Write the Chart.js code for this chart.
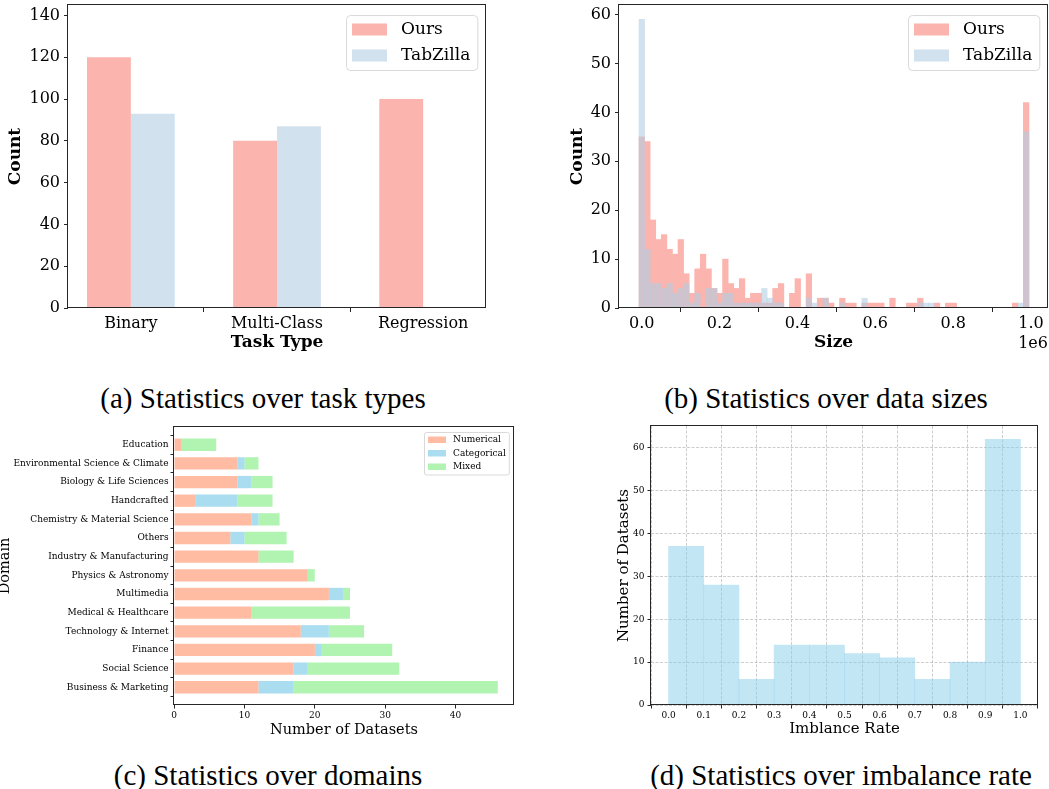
<!DOCTYPE html>
<html>
<head>
<meta charset="utf-8">
<title>Dataset statistics</title>
<script src="https://cdn.jsdelivr.net/npm/chart.js@4.4.1/dist/chart.umd.min.js"></script>
<style>
  html, body { margin: 0; padding: 0; background: #fff; }
  body { position: relative; width: 1049px; height: 789px; overflow: hidden; }
  canvas { position: absolute; }
  .caption { position: absolute; font-family: 'Liberation Serif', 'DejaVu Serif'; font-size: 29px; line-height: 29px; white-space: nowrap; color: #000; transform: translateX(-50%); }
</style>
</head>
<body>
<canvas id="taskChart" width="500" height="360" style="left:0;top:0"></canvas>
<canvas id="sizeChart" width="489" height="360" style="left:560px;top:0"></canvas>
<canvas id="domainChart" width="540" height="330" style="left:0;top:420px"></canvas>
<canvas id="rateChart" width="469" height="330" style="left:580px;top:420px"></canvas>
<div class="caption" style="left:263px;top:384px">(a) Statistics over task types</div>
<div class="caption" style="left:826px;top:384px">(b) Statistics over data sizes</div>
<div class="caption" style="left:268px;top:761px">(c) Statistics over domains</div>
<div class="caption" style="left:841px;top:761px">(d) Statistics over imbalance rate</div>
<script>
// (a) task types
var taskTypes = ["Binary", "Multi-Class", "Regression"];
var taskOurs = [120, 80, 100];
var taskTabZilla = [93, 87, 0];

// (b) data sizes, histogram with 70 bins (x in units of 1e6)
var sizeBinStart = -0.0069;
var sizeBinWidth = 0.01431;
var sizeOurs = [35, 34, 18, 14, 15, 12, 11, 14, 7, 3,
                8, 11, 8, 4, 3, 10, 5, 4, 6, 2,
                3, 3, 1, 1, 4, 5, 0, 3, 6, 0,
                7, 0, 2, 2, 1, 0, 2, 1, 1, 0,
                1, 1, 1, 1, 0, 2, 0, 0, 1, 1,
                2, 0, 0, 1, 0, 1, 1, 0, 0, 0,
                0, 0, 0, 0, 0, 0, 0, 1, 0, 42];
var sizeTabZilla = [59, 12, 5, 5, 4, 5, 3, 4, 5, 1,
                    3, 0, 4, 4, 1, 3, 3, 1, 1, 1,
                    1, 1, 4, 2, 1, 1, 0, 0, 0, 0,
                    2, 1, 0, 2, 0, 0, 1, 0, 0, 0,
                    2, 0, 0, 0, 0, 0, 0, 0, 0, 0,
                    1, 1, 1, 0, 0, 0, 0, 0, 0, 0,
                    0, 0, 0, 0, 0, 0, 0, 0, 1, 36];
var sizeTicks = [0.0, 0.2, 0.4, 0.6, 0.8, 1.0];

// (c) domains, top to bottom
var domains = ["Education", "Environmental Science & Climate", "Biology & Life Sciences", "Handcrafted",
               "Chemistry & Material Science", "Others", "Industry & Manufacturing", "Physics & Astronomy",
               "Multimedia", "Medical & Healthcare", "Technology & Internet", "Finance", "Social Science",
               "Business & Marketing"];
var domainNumerical = [1, 9, 9, 3, 11, 8, 12, 19, 22, 11, 18, 20, 17, 12];
var domainCategorical = [0, 1, 2, 6, 1, 2, 0, 0, 2, 0, 4, 1, 2, 5];
var domainMixed = [5, 2, 3, 5, 3, 6, 5, 1, 1, 14, 5, 10, 13, 29];

// (d) imbalance rate
var rateEdges = [0.0, 0.1, 0.2, 0.3, 0.4, 0.5, 0.6, 0.7, 0.8, 0.9, 1.0];
var rateCounts = [37, 28, 6, 14, 14, 12, 11, 6, 10, 62];

var SERIF = "'DejaVu Serif', serif";
var INK = '#262626';
var OURS = '#fbb4ae';
var TABZ = 'rgba(179, 205, 227, 0.6)';

Chart.defaults.font.family = SERIF;
Chart.defaults.color = '#000';
Chart.defaults.animation = false;

// legend drawn inside the plot, like matplotlib
var boxLegend = {
    id: 'boxLegend',
    afterDraw: function (chart, args, o) {
        var ctx = chart.ctx;
        var area = chart.chartArea;
        var sets = chart.data.datasets;
        ctx.save();
        ctx.font = o.size + 'px ' + SERIF;
        var textW = 0;
        sets.forEach(function (ds) {
            textW = Math.max(textW, ctx.measureText(ds.label).width);
        });
        var w = o.textX + textW + o.padRight;
        var h = o.padY * 2 + sets.length * o.row;
        var x = Math.round(area.right - o.right - w);
        var y = Math.round(area.top + o.top);
        ctx.beginPath();
        if (ctx.roundRect) ctx.roundRect(x + 0.5, y + 0.5, w, h, o.radius);
        else ctx.rect(x + 0.5, y + 0.5, w, h);
        ctx.fillStyle = 'rgba(255,255,255,0.8)';
        ctx.fill();
        ctx.strokeStyle = '#d9d9d9';
        ctx.lineWidth = 1;
        ctx.stroke();
        sets.forEach(function (ds, i) {
            var cy = y + o.padY + o.row * (i + 0.5);
            ctx.fillStyle = ds.backgroundColor;
            ctx.fillRect(x + o.patchX, cy - o.patchH / 2, o.patchW, o.patchH);
            ctx.fillStyle = '#000';
            ctx.textBaseline = 'middle';
            ctx.fillText(ds.label, x + o.textX, cy);
        });
        ctx.restore();
    }
};

// box around the plot area
var frame = {
    id: 'frame',
    afterDatasetsDraw: function (chart) {
        var a = chart.chartArea;
        var ctx = chart.ctx;
        var l = Math.round(a.left) - 0.5, t = Math.round(a.top) - 0.5;
        var r = Math.round(a.right) - 0.5, b = Math.round(a.bottom) - 0.5;
        ctx.save();
        ctx.strokeStyle = INK;
        ctx.lineWidth = 1;
        ctx.strokeRect(l, t, r - l, b - t);
        ctx.restore();
    }
};

// "1e6" under the x axis
var offsetText = {
    id: 'offsetText',
    afterDraw: function (chart, args, o) {
        var ctx = chart.ctx;
        ctx.save();
        ctx.font = o.size + 'px ' + SERIF;
        ctx.fillStyle = '#000';
        ctx.textAlign = 'right';
        ctx.textBaseline = 'alphabetic';
        ctx.fillText(o.text, chart.chartArea.right, o.y);
        ctx.restore();
    }
};

function fixSize(size) {
    return function (s) {
        if (s.isHorizontal()) s.height = size;
        else s.width = size;
        s.paddingTop = s.paddingBottom = s.paddingLeft = s.paddingRight = 0;
    };
}

function tickMarks(len) {
    return { drawOnChartArea: false, drawTicks: true, tickLength: len, tickColor: INK, tickWidth: 1 };
}

function setTicks(values) {
    return function (s) {
        s.ticks = values.map(function (v) { return { value: v }; });
    };
}

// ---------- (a) ----------
new Chart(document.getElementById('taskChart'), {
    type: 'bar',
    data: {
        datasets: [{
            label: 'Ours',
            data: taskTypes.map(function (t, i) { return { x: i, y: taskOurs[i] }; }),
            backgroundColor: OURS
        }, {
            label: 'TabZilla',
            data: taskTypes.map(function (t, i) { return { x: i, y: taskTabZilla[i] }; }),
            backgroundColor: TABZ
        }]
    },
    options: {
        responsive: false,
        layout: { padding: { left: 0, top: 5, right: 14, bottom: 0 } },
        datasets: { bar: { categoryPercentage: 0.6, barPercentage: 1 } },
        plugins: {
            legend: { display: false },
            tooltip: { enabled: false },
            boxLegend: { size: 17, right: 9, top: 10, patchX: 6, patchW: 35, patchH: 12, textX: 55, padRight: 7, row: 26, padY: 1.5, radius: 4 }
        },
        scales: {
            x: {
                type: 'linear', min: -0.43, max: 2.43, offset: false,
                afterBuildTicks: setTicks([0, 1, 2]),
                ticks: { callback: function (v) { return taskTypes[v]; }, font: { size: 16 }, padding: 2, autoSkip: false, maxRotation: 0 },
                grid: tickMarks(4),
                border: { display: false },
                title: { display: true, text: 'Task Type', font: { size: 17, weight: 'bold' }, padding: { top: 0, bottom: 7 } },
                afterFit: fixSize(52)
            },
            y: {
                min: 0, max: 145,
                ticks: { stepSize: 20, includeBounds: false, font: { size: 16 }, padding: 4 },
                grid: tickMarks(4),
                border: { display: false },
                title: { display: true, text: 'Count', font: { size: 17, weight: 'bold' }, padding: { top: 5, bottom: 0 } },
                afterFit: fixSize(68)
            }
        }
    },
    plugins: [frame, boxLegend]
});

// ---------- (b) ----------
function sizePoints(counts) {
    return counts.map(function (c, i) { return { x: sizeBinStart + (i + 0.5) * sizeBinWidth, y: c }; });
}
new Chart(document.getElementById('sizeChart'), {
    type: 'bar',
    data: {
        datasets: [{
            label: 'Ours', data: sizePoints(sizeOurs), backgroundColor: OURS, order: 1
        }, {
            label: 'TabZilla', data: sizePoints(sizeTabZilla), backgroundColor: TABZ, order: 0
        }]
    },
    options: {
        responsive: false,
        layout: { padding: { left: 0, top: 5, right: 1, bottom: 0 } },
        datasets: { bar: { categoryPercentage: 1, barPercentage: 1, grouped: false } },
        plugins: {
            legend: { display: false },
            tooltip: { enabled: false },
            boxLegend: { size: 17, right: 9, top: 10, patchX: 6, patchW: 35, patchH: 12, textX: 55, padRight: 7, row: 26, padY: 1.5, radius: 4 },
            offsetText: { text: '1e6', size: 16, y: 348 }
        },
        scales: {
            x: {
                type: 'linear', min: -0.0583, max: 1.0437, offset: false,
                afterBuildTicks: setTicks(sizeTicks),
                ticks: { callback: function (v) { return v.toFixed(1); }, font: { size: 16 }, padding: 2, autoSkip: false, maxRotation: 0 },
                grid: tickMarks(4),
                border: { display: false },
                title: { display: true, text: 'Size', font: { size: 17, weight: 'bold' }, padding: { top: 0, bottom: 7 } },
                afterFit: fixSize(52)
            },
            y: {
                min: 0, max: 61.95,
                ticks: { stepSize: 10, includeBounds: false, font: { size: 16 }, padding: 4 },
                grid: tickMarks(4),
                border: { display: false },
                title: { display: true, text: 'Count', font: { size: 17, weight: 'bold' }, padding: { top: 7, bottom: 0 } },
                afterFit: fixSize(59)
            }
        }
    },
    plugins: [frame, boxLegend, offsetText]
});

// ---------- (c) ----------
function domainPoints(vals) {
    return vals.map(function (v, i) { return { x: v, y: i }; });
}
new Chart(document.getElementById('domainChart'), {
    type: 'bar',
    data: {
        datasets: [
            { label: 'Numerical', data: domainPoints(domainNumerical), backgroundColor: 'rgba(255, 160, 122, 0.7)' },
            { label: 'Categorical', data: domainPoints(domainCategorical), backgroundColor: 'rgba(135, 206, 235, 0.7)' },
            { label: 'Mixed', data: domainPoints(domainMixed), backgroundColor: 'rgba(144, 238, 144, 0.7)' }
        ]
    },
    options: {
        responsive: false,
        indexAxis: 'y',
        layout: { padding: { left: 0, top: 7, right: 26, bottom: 0 } },
        datasets: { bar: { categoryPercentage: 1, barPercentage: 0.66 } },
        plugins: {
            legend: { display: false },
            tooltip: { enabled: false },
            boxLegend: { size: 9, right: 5, top: 5, patchX: 4, patchW: 18, patchH: 6.5, textX: 29, padRight: 3, row: 13.5, padY: 1, radius: 2 }
        },
        scales: {
            x: {
                type: 'linear', min: 0, max: 48.3, stacked: true,
                ticks: { stepSize: 10, includeBounds: false, font: { size: 9 }, padding: 2 },
                grid: tickMarks(3.5),
                border: { display: false },
                title: { display: true, text: 'Number of Datasets', font: { size: 14.5 }, padding: { top: 0, bottom: 11 } },
                afterFit: fixSize(45)
            },
            y: {
                type: 'linear', min: -0.95, max: 13.95, reverse: true, stacked: true, offset: false,
                afterBuildTicks: setTicks(domains.map(function (d, i) { return i; })),
                ticks: { callback: function (v) { return domains[v]; }, font: { size: 9 }, padding: 2, autoSkip: false },
                grid: tickMarks(3.5),
                border: { display: false },
                title: { display: true, text: 'Domain', font: { size: 14.5 }, padding: { top: -3, bottom: 0 } },
                afterFit: fixSize(174)
            }
        }
    },
    plugins: [frame, boxLegend]
});

// ---------- (d) ----------
new Chart(document.getElementById('rateChart'), {
    type: 'bar',
    data: {
        datasets: [{
            label: 'Imbalance',
            data: rateCounts.map(function (c, i) { return { x: (rateEdges[i] + rateEdges[i + 1]) / 2, y: c }; }),
            backgroundColor: 'rgba(135, 206, 235, 0.5)'
        }]
    },
    options: {
        responsive: false,
        layout: { padding: { left: 0, top: 6, right: 11, bottom: 0 } },
        datasets: { bar: { categoryPercentage: 1, barPercentage: 1 } },
        plugins: { legend: { display: false }, tooltip: { enabled: false } },
        scales: {
            x: {
                type: 'linear', min: -0.05, max: 1.05, offset: false,
                afterBuildTicks: setTicks(rateEdges),
                ticks: { callback: function (v) { return v.toFixed(1); }, font: { size: 9 }, padding: 2, autoSkip: false, maxRotation: 0 },
                grid: { drawOnChartArea: true, drawTicks: true, tickLength: 3.5, color: 'rgba(150,150,150,0.6)', lineWidth: 0.8, tickColor: INK, tickWidth: 1 },
                border: { display: false, dash: [3, 1.5] },
                title: { display: true, text: 'Imblance Rate', font: { size: 15 }, padding: { top: 0, bottom: 12 } },
                afterFit: fixSize(45)
            },
            y: {
                min: 0, max: 65.1,
                ticks: { stepSize: 10, includeBounds: false, font: { size: 9 }, padding: 3 },
                grid: { drawOnChartArea: true, drawTicks: true, tickLength: 3.5, color: 'rgba(150,150,150,0.6)', lineWidth: 0.8, tickColor: INK, tickWidth: 1 },
                border: { display: false, dash: [3, 1.5] },
                title: { display: true, text: 'Number of Datasets', font: { size: 15 }, padding: { top: 35, bottom: 0 } },
                afterFit: fixSize(71)
            }
        }
    },
    plugins: [frame]
});
</script>
</body>
</html>
